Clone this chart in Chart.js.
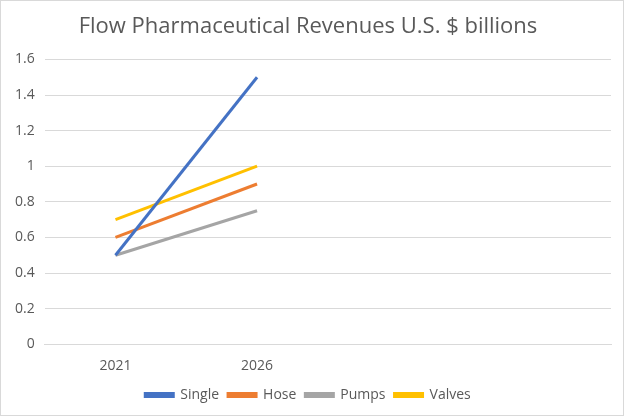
<!DOCTYPE html>
<html><head><meta charset="utf-8">
<script src="https://cdn.jsdelivr.net/npm/chart.js@4/dist/chart.umd.min.js"></script>
<style>
html,body{margin:0;padding:0;background:#fff;}
#wrap{position:absolute;left:0;top:0;width:622px;height:414px;border:1px solid #d9d9d9;}
</style></head><body>
<div id="wrap"><canvas id="c" width="622" height="414"></canvas></div>
<script>
const categories = ['2021', '2026', '', ''];
const single = [0.5, 1.5, null, null];
const hose = [0.6, 0.9, null, null];
const pumps = [0.5, 0.75, null, null];
const valves = [0.7, 1.0, null, null];
const seriesNames = ['Single', 'Hose', 'Pumps', 'Valves'];
const colors = ['#4472c4', '#ed7d31', '#a5a5a5', '#ffc000'];
const font = "'Open Sans', 'Liberation Sans', sans-serif";
const mk = (i, d) => ({label: seriesNames[i], data: d, borderColor: colors[i], backgroundColor: colors[i],
  borderWidth: 3, pointRadius: 0, tension: 0, fill: false});
new Chart(document.getElementById('c'), {
  type: 'line',
  data: {labels: categories, datasets: [mk(0, single), mk(1, hose), mk(2, pumps), mk(3, valves)]},
  options: {
    responsive: false, animation: false,
    layout: {padding: {left: 4, right: 12, top: 7, bottom: 3}},
    plugins: {
      title: {display: true, text: 'Flow Pharmaceutical Revenues U.S. $ billions', color: '#595959',
        font: {family: font, size: 22, weight: 'normal'}, padding: {top: 6, bottom: 19}},
      legend: {position: 'bottom', labels: {boxWidth: 28, boxHeight: 3, color: '#595959',
        font: {family: font, size: 14}, padding: 9}},
      tooltip: {enabled: false}
    },
    scales: {
      x: {offset: true, grid: {display: false}, border: {display: true, color: '#d9d9d9'},
        ticks: {color: '#595959', font: {family: font, size: 14}, padding: 5}},
      y: {min: 0, max: 1.6, grid: {color: '#d9d9d9', drawTicks: false}, border: {display: false},
        ticks: {stepSize: 0.2, color: '#595959', font: {family: font, size: 14}, padding: 10,
          callback: v => Math.round(v * 10) / 10}}
    }
  }
});
</script></body></html>
